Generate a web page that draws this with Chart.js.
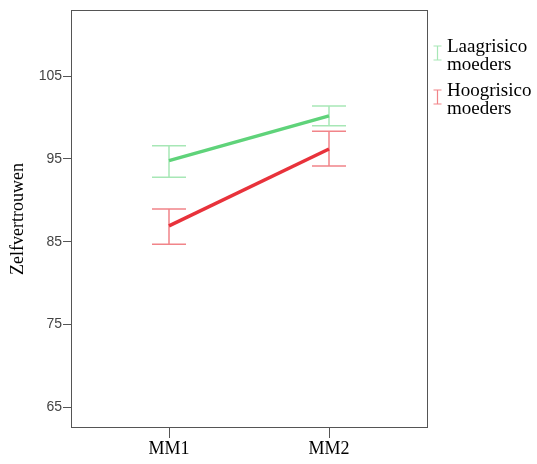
<!DOCTYPE html>
<html>
<head>
<meta charset="utf-8">
<script src="https://cdn.jsdelivr.net/npm/chart.js@4/dist/chart.umd.min.js"></script>
<style>
html,body{margin:0;padding:0;background:#fff;}
#wrap{position:relative;width:537px;height:464px;}
</style>
</head>
<body>
<div id="wrap"><canvas id="c" width="537" height="464"></canvas></div>
<script>
const categories = ["MM1", "MM2"];
const seriesNames = [["Laagrisico", "moeders"], ["Hoogrisico", "moeders"]];
const lowMeans = [94.8, 100.2];
const lowUpper = [96.6, 101.4];
const lowLower = [92.8, 99.0];
const highMeans = [86.9, 96.2];
const highUpper = [88.95, 98.35];
const highLower = [84.7, 94.15];
const yTicks = [65, 75, 85, 95, 105];
const yTitle = "Zelfvertrouwen";

const lineColors = ["#5fd37a", "#e8323b"];
const barColors = ["rgba(95,211,122,0.55)", "rgba(232,50,59,0.6)"];

function pts(vals){ return vals.map((v,i)=>({x:i, y:v})); }

const errorBars = {
  id: 'errorBars',
  afterDatasetsDraw(chart){
    const ctx = chart.ctx, xs = chart.scales.x, ys = chart.scales.y;
    const sets = [[lowUpper, lowLower], [highUpper, highLower]];
    ctx.save();
    ctx.lineWidth = 1.5;
    sets.forEach((s, k) => {
      ctx.strokeStyle = barColors[k];
      s[0].forEach((u, i) => {
        const x = xs.getPixelForValue(i);
        const yu = ys.getPixelForValue(u), yl = ys.getPixelForValue(s[1][i]);
        ctx.beginPath();
        ctx.moveTo(x, yu); ctx.lineTo(x, yl);
        ctx.moveTo(x-17, yu); ctx.lineTo(x+17, yu);
        ctx.moveTo(x-17, yl); ctx.lineTo(x+17, yl);
        ctx.stroke();
      });
    });
    ctx.restore();
  }
};

const frame = {
  id: 'frame',
  afterDraw(chart){
    const ctx = chart.ctx, a = chart.chartArea;
    ctx.save();
    ctx.strokeStyle = '#555';
    ctx.lineWidth = 1;
    ctx.strokeRect(Math.round(a.left)+0.5, Math.round(a.top)+0.5, Math.round(a.right-a.left), Math.round(a.bottom-a.top));
    // y title
    ctx.fillStyle = '#000';
    ctx.font = '18px "Liberation Serif"';
    ctx.textAlign = 'center';
    ctx.textBaseline = 'middle';
    ctx.translate(18, 219);
    ctx.rotate(-Math.PI/2);
    ctx.fillText(yTitle, 0, 0);
    ctx.restore();
    // legend
    ctx.save();
    ctx.font = '19px "Liberation Serif"';
    ctx.textAlign = 'left';
    ctx.textBaseline = 'middle';
    const baseY = [47, 91];
    seriesNames.forEach((names, k) => {
      const y0 = baseY[k];
      ctx.strokeStyle = barColors[k];
      ctx.lineWidth = 1.2;
      const ix = 437.5;
      ctx.beginPath();
      ctx.moveTo(ix, y0-1); ctx.lineTo(ix, y0+13);
      ctx.moveTo(ix-4, y0-1); ctx.lineTo(ix+4, y0-1);
      ctx.moveTo(ix-4, y0+13); ctx.lineTo(ix+4, y0+13);
      ctx.stroke();
      ctx.fillStyle = '#000';
      names.forEach((t, j) => ctx.fillText(t, 447, y0 + j*18));
    });
    ctx.restore();
  }
};

new Chart(document.getElementById('c'), {
  type: 'line',
  data: {
    datasets: [
      {label: seriesNames[0].join(' '), data: pts(lowMeans), borderColor: lineColors[0], borderWidth: 3.5, pointRadius: 0, fill: false},
      {label: seriesNames[1].join(' '), data: pts(highMeans), borderColor: lineColors[1], borderWidth: 3.5, pointRadius: 0, fill: false}
    ]
  },
  options: {
    responsive: false,
    animation: false,
    layout: {padding: {top: 10, right: 110, left: 0, bottom: 0}},
    plugins: {legend: {display: false}, tooltip: {enabled: false}},
    scales: {
      x: {
        type: 'linear', min: -0.6125, max: 1.6125,
        afterBuildTicks(s){ s.ticks = categories.map((c,i)=>({value:i})); },
        afterFit(s){ s.height = 37; },
        ticks: {callback: (v) => categories[v], font: {family: '"Liberation Serif"', size: 18}, color: '#000', padding: 0, maxRotation: 0},
        grid: {drawOnChartArea: false, drawTicks: true, tickLength: 11, color: '#555'},
        border: {display: false}
      },
      y: {
        type: 'linear', min: 62.6, max: 113,
        afterBuildTicks(s){ s.ticks = yTicks.map(v=>({value:v})); },
        afterFit(s){ s.width = 71; },
        ticks: {font: {family: '"Liberation Sans"', size: 14}, color: '#444', padding: 1},
        grid: {drawOnChartArea: false, drawTicks: true, tickLength: 8, color: '#555'},
        border: {display: false}
      }
    }
  },
  plugins: [errorBars, frame]
});
</script>
</body>
</html>
